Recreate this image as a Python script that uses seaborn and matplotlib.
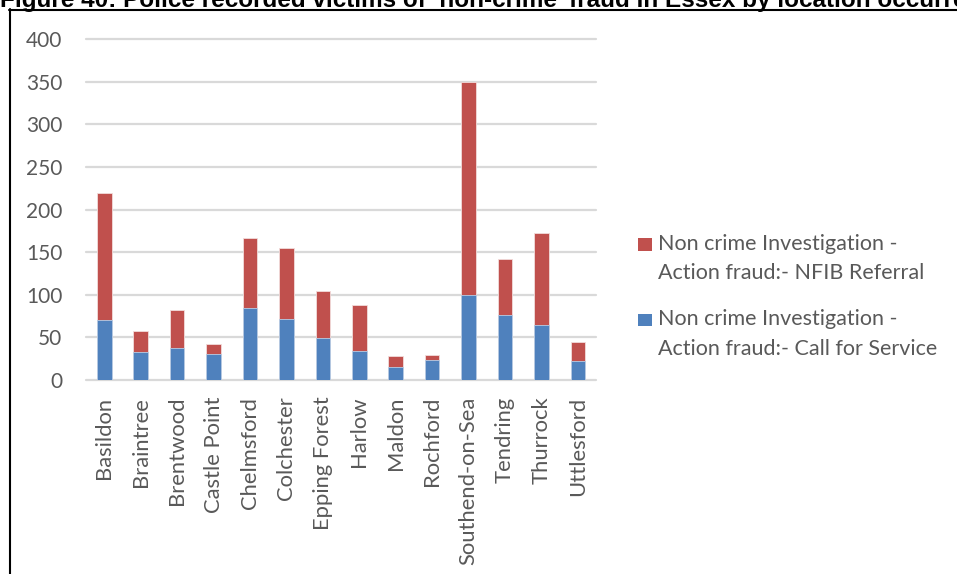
import matplotlib
matplotlib.use("Agg")
import matplotlib.pyplot as plt
from matplotlib.lines import Line2D
from matplotlib.patches import Patch
import numpy as np
import pandas as pd
import seaborn as sns

# Districts and victim counts by outcome type
districts = ["Basildon", "Braintree", "Brentwood", "Castle Point", "Chelmsford",
             "Colchester", "Epping Forest", "Harlow", "Maldon", "Rochford",
             "Southend-on-Sea", "Tendring", "Thurrock", "Uttlesford"]
call_for_service = [70, 33, 37, 30, 85, 71, 49, 34, 15, 24, 100, 76, 64, 22]
nfib_referral = [149, 25, 45, 12, 82, 84, 55, 54, 13, 5, 249, 66, 109, 23]
y_ticks = [0, 50, 100, 150, 200, 250, 300, 350, 400]

label_nfib = "Non crime Investigation -\nAction fraud:- NFIB Referral"
label_cfs = "Non crime Investigation -\nAction fraud:- Call for Service"
title = "Figure 40: Police recorded victims of \u2018non-crime\u2019 fraud in Essex by location occurred"

RED = "#C0504D"
BLUE = "#4F81BD"
GREY_TEXT = "#595959"

df = pd.DataFrame({
    "district": districts,
    "cfs": call_for_service,
    "nfib": nfib_referral,
})
df["total"] = df["cfs"] + df["nfib"]

sns.set_theme(style="white")
plt.rcParams["font.family"] = ["Lato", "DejaVu Sans"]

W, H = 957, 574
fig = plt.figure(figsize=(W / 100, H / 100), dpi=100)
ax = fig.add_axes([86 / W, 1 - 380 / H, (596 - 86) / W, (380 - 39) / H])

# Stacked bars: full stack in red, lower segment in blue on top of it
sns.barplot(data=df, x="district", y="total", color=RED, saturation=1,
            width=0.4, ax=ax, order=districts, zorder=3,
            edgecolor="#F2DCDB", linewidth=0.6)
sns.barplot(data=df, x="district", y="cfs", color=BLUE, saturation=1,
            width=0.4, ax=ax, order=districts, zorder=4,
            edgecolor="#B9CDE5", linewidth=0.6)

ax.set_xlim(-0.5, len(districts) - 0.5)
ax.set_ylim(0, 400)
ax.set_yticks(y_ticks)
ax.set_yticklabels([str(v) for v in y_ticks])
ax.set_xlabel("")
ax.set_ylabel("")
for s in ax.spines.values():
    s.set_visible(False)
ax.grid(axis="y", color="#D9D9D9", linewidth=1.6, zorder=0)
for gl in ax.get_ygridlines():
    gl.set_clip_on(False)
ax.tick_params(axis="y", length=0, pad=17, labelsize=15, labelcolor=GREY_TEXT)
ax.tick_params(axis="x", length=0, pad=12, labelsize=15.8, labelcolor=GREY_TEXT,
               labelrotation=90)

LEG_FS = 15.5
handles = [Patch(facecolor=RED, edgecolor="none"), Patch(facecolor=BLUE, edgecolor="none")]
leg = fig.legend(handles, [label_nfib, label_cfs], loc="upper left",
                 bbox_to_anchor=(638 / W, 1 - 234 / H), frameon=False,
                 fontsize=LEG_FS, labelcolor=GREY_TEXT, handlelength=0.65,
                 handleheight=0.51, handletextpad=0.28, labelspacing=1.22,
                 borderaxespad=0, borderpad=0)
for t in leg.get_texts():
    t.set_linespacing(1.57)
# keep each swatch level with the first line of its two-line label
for h in leg.legend_handles:
    h.set_y(h.get_y() + 10.4)

# Figure frame and caption
fig.add_artist(Line2D([10 / W, 10 / W], [0, 1 - 9 / H], color="black",
                      linewidth=1.5, transform=fig.transFigure))
fig.add_artist(Line2D([9 / W, 1], [1 - 9.5 / H, 1 - 9.5 / H], color="black",
                      linewidth=1.5, transform=fig.transFigure))
fig.text(0, 1 - 7 / H, title, ha="left", va="baseline", fontsize=17.5,
         fontweight="bold", family=["Liberation Sans", "DejaVu Sans"], color="black")

fig.savefig("out.png", dpi=100)
